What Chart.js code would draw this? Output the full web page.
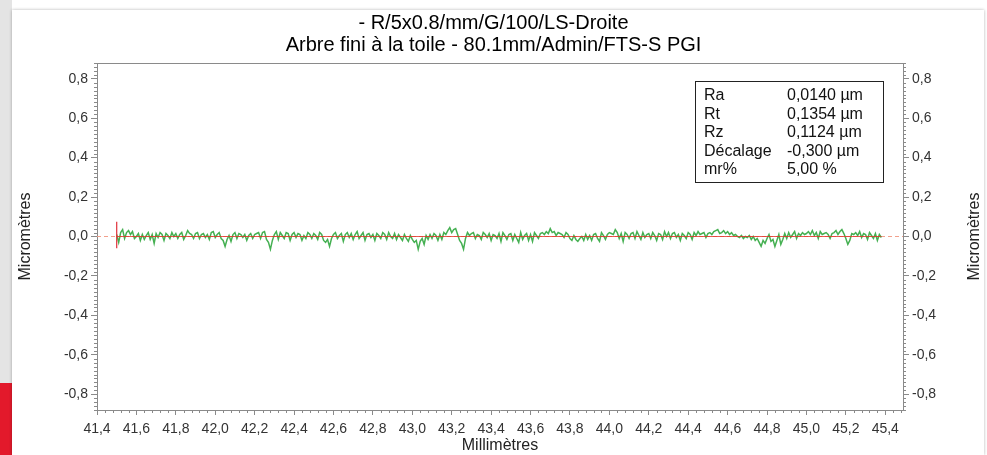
<!DOCTYPE html>
<html><head><meta charset="utf-8">
<script src="https://cdn.jsdelivr.net/npm/chart.js@4.4.0/dist/chart.umd.min.js"></script>
<style>
html,body{margin:0;padding:0;width:987px;height:455px;overflow:hidden;background:#fff;}
#strip{position:absolute;left:0;top:0;width:12px;height:383px;background:#e4e4e4;}
#red{position:absolute;left:0;top:383px;width:13px;height:72px;background:#e3192b;}
#panel{position:absolute;left:12px;top:10px;width:972px;height:445px;background:#fff;box-shadow:0 0 3px rgba(0,0,0,0.3);}
#wrap{position:absolute;left:0;top:0;width:987px;height:455px;}
</style></head><body>
<div id="strip"></div><div id="red"></div><div id="panel"></div>
<div id="wrap"><canvas id="c"></canvas></div>
<script>
const titleLines = ['- R/5x0.8/mm/G/100/LS-Droite', 'Arbre fini à la toile - 80.1mm/Admin/FTS-S PGI'];
const xAxisTitle = 'Millimètres';
const yAxisTitle = 'Micromètres';
const xTicks = [41.4,41.6,41.8,42.0,42.2,42.4,42.6,42.8,43.0,43.2,43.4,43.6,43.8,44.0,44.2,44.4,44.6,44.8,45.0,45.2,45.4];
const xTickLabels = ['41,4','41,6','41,8','42,0','42,2','42,4','42,6','42,8','43,0','43,2','43,4','43,6','43,8','44,0','44,2','44,4','44,6','44,8','45,0','45,2','45,4'];
const yTicks = [-0.8,-0.6,-0.4,-0.2,0,0.2,0.4,0.6,0.8];
const yTickLabels = ['-0,8','-0,6','-0,4','-0,2','0,0','0,2','0,4','0,6','0,8'];
const xMin = 41.4, xMax = 45.49, yMin = -0.88, yMax = 0.88;

// profile sampled every 0.01 mm starting at 41.50 mm (µm)
const xStart = 41.50, xStep = 0.01;
const profile = [
 0.01,-0.03,0.02,0.035,-0.01,0.02,0.03,0.01,0.025,-0.01,
 0.00,0.015,-0.02,0.01,-0.015,0.005,0.02,-0.015,0.01,-0.035,
 0.015,-0.005,0.02,0.01,-0.02,0.015,0.005,-0.01,0.02,0.00,
 0.015,-0.01,0.01,0.02,-0.015,0.005,0.03,0.015,0.01,-0.01,
 0.015,0.02,-0.01,0.01,0.015,-0.005,0.01,-0.015,0.02,0.025,
 -0.005,0.01,0.02,-0.01,-0.02,-0.05,-0.015,0.005,-0.025,0.01,
 0.02,-0.01,0.015,0.01,-0.005,0.01,-0.02,0.005,0.015,-0.01,
 0.01,0.015,0.02,-0.01,0.02,0.025,-0.015,-0.03,-0.065,-0.02,
 0.01,0.025,-0.015,0.02,0.005,-0.01,0.02,0.015,-0.02,0.01,
 0.02,-0.005,0.015,0.01,-0.02,0.005,-0.01,0.02,0.01,-0.01,
 0.015,0.005,-0.015,0.02,0.01,-0.02,-0.03,-0.015,-0.05,-0.01,
 0.01,0.02,-0.01,0.005,0.015,-0.025,0.01,0.02,-0.005,0.015,
 -0.015,0.01,0.025,-0.01,0.005,0.02,-0.02,0.01,0.015,-0.005,
 0.01,-0.02,0.015,0.005,-0.01,0.02,0.01,-0.015,0.02,0.00,
 -0.01,0.015,-0.015,0.01,-0.005,-0.02,0.01,-0.01,-0.025,0.005,
 -0.015,-0.03,-0.02,-0.065,-0.025,-0.01,-0.04,0.005,-0.015,0.01,
 -0.01,0.015,0.005,-0.02,0.01,-0.015,0.02,0.01,0.03,0.045,
 0.02,0.035,0.04,0.01,-0.02,-0.035,-0.065,-0.01,0.02,0.005,
 0.015,0.02,-0.01,0.01,0.005,-0.015,0.02,0.01,-0.005,0.015,
 -0.02,0.01,0.005,-0.01,0.015,-0.025,0.02,0.005,-0.015,0.01,
 0.015,-0.02,0.01,-0.01,-0.03,0.02,-0.015,0.005,0.015,-0.02,
 0.01,-0.025,0.02,0.005,-0.01,0.015,0.02,0.01,0.025,0.015,
 0.04,0.02,0.025,0.005,0.02,0.015,0.01,-0.005,0.02,0.01,
 -0.01,-0.02,0.005,-0.015,-0.025,-0.01,0.00,-0.02,0.01,-0.015,
 0.005,-0.02,0.01,0.015,-0.01,-0.025,0.02,0.005,-0.015,0.01,
 0.02,0.015,0.01,0.035,0.02,-0.01,0.015,-0.025,0.02,0.01,
 -0.01,0.015,0.02,-0.01,0.025,0.005,-0.015,0.02,-0.005,0.01,
 0.015,-0.01,0.02,0.005,-0.02,0.015,0.01,-0.015,0.025,0.00,
 0.02,-0.01,0.015,0.02,-0.005,0.01,-0.02,0.015,0.005,-0.01,
 0.02,0.01,-0.015,0.02,0.005,0.025,0.01,0.015,0.02,-0.005,
 0.015,0.02,0.01,0.025,0.03,0.035,0.015,0.02,0.03,0.015,
 0.025,0.01,0.02,0.005,0.01,0.00,-0.005,0.005,-0.01,0.00,
 -0.005,0.005,-0.015,0.00,-0.02,-0.01,-0.03,-0.05,-0.02,-0.035,
 -0.01,0.01,-0.025,-0.015,-0.05,-0.02,0.01,-0.04,-0.015,0.015,
 -0.01,0.02,-0.005,0.01,0.025,-0.01,0.015,0.005,0.02,0.01,
 0.015,0.025,0.01,0.03,0.005,0.02,-0.01,0.025,0.01,0.015,
 0.02,0.01,-0.01,0.015,0.02,0.03,0.01,0.025,0.035,0.015,
 -0.01,-0.04,-0.02,0.015,0.01,0.02,0.005,0.025,-0.005,0.015,
 0.01,-0.015,0.02,0.005,-0.01,0.015,-0.02,0.01,-0.005
];
const meanLineX = [41.50, 45.38];
const refLineX = [41.4, 45.49];
const startMarkX = 41.50;
const startMarkY = [0.075, -0.06];

const statNames = ['Ra','Rt','Rz','Décalage','mr%'];
const statValues = ['0,0140 µm','0,1354 µm','0,1124 µm','-0,300 µm','5,00 %'];

const FONT = "'Liberation Sans', Arial, sans-serif";
const axisColor = '#8a8a8a';
const labelColor = '#333';

const profilePts = profile.map((v, i) => ({ x: +(xStart + i * xStep).toFixed(2), y: v }));

const extras = {
  id: 'extras',
  afterDraw(chart) {
    const ctx = chart.ctx, a = chart.chartArea;
    const sx = chart.scales.x, sy = chart.scales.y;
    ctx.save();
    ctx.strokeStyle = axisColor; ctx.lineWidth = 1;
    ctx.beginPath();
    for (let k = 0; ; k++) {
      const v = xMin + k * 0.04;
      if (v > xMax + 1e-9) break;
      if (k % 5 === 0) continue;
      const px = Math.round(sx.getPixelForValue(v)) + 0.5;
      ctx.moveTo(px, a.bottom); ctx.lineTo(px, a.bottom + 3);
    }
    for (let k = -44; k <= 44; k++) {
      if (k % 10 === 0) continue;
      const py = Math.round(sy.getPixelForValue(k * 0.02)) + 0.5;
      ctx.moveTo(a.left - 3, py); ctx.lineTo(a.left, py);
      ctx.moveTo(a.right, py); ctx.lineTo(a.right + 3, py);
    }
    ctx.moveTo(a.left, Math.round(a.top) + 0.5); ctx.lineTo(a.right, Math.round(a.top) + 0.5);
    ctx.stroke();

    // right axis title (reads bottom to top)
    ctx.fillStyle = '#222';
    ctx.font = '16px ' + FONT;
    ctx.textAlign = 'center'; ctx.textBaseline = 'middle';
    ctx.save();
    ctx.translate(975, (a.top + a.bottom) / 2);
    ctx.rotate(-Math.PI / 2);
    ctx.fillText(yAxisTitle, 0, 0);
    ctx.restore();

    // stats box
    const bx = a.right - 208, by = a.top + 18, bw = 188, bh = 101;
    ctx.fillStyle = '#fff';
    ctx.fillRect(bx, by, bw, bh);
    ctx.strokeStyle = '#222';
    ctx.strokeRect(Math.round(bx) + 0.5, Math.round(by) + 0.5, bw, bh);
    ctx.fillStyle = '#111';
    ctx.font = '16px ' + FONT;
    ctx.textAlign = 'left';
    statNames.forEach((n, i) => {
      const ty = by + 15 + i * 18.5;
      ctx.fillText(n, bx + 9, ty);
      ctx.fillText(statValues[i], bx + 92, ty);
    });
    ctx.restore();
  }
};

const yScaleBase = (pos, w) => ({
  type: 'linear', position: pos, min: yMin, max: yMax,
  afterBuildTicks: s => { s.ticks = yTicks.map(v => ({ value: v })); },
  afterFit: s => { s.width = w; },
  grid: { drawOnChartArea: false, tickLength: 6, color: axisColor },
  border: { color: axisColor },
  ticks: {
    padding: 3, color: labelColor, font: { family: FONT, size: 14 },
    callback: (v) => { const i = yTicks.findIndex(t => Math.abs(t - v) < 1e-9); return i >= 0 ? yTickLabels[i] : ''; }
  }
});

const yLeft = yScaleBase('left', 97);
yLeft.title = { display: true, text: yAxisTitle, color: '#222', font: { family: FONT, size: 16 }, padding: { top: 16, bottom: 0 } };
const yRight = yScaleBase('right', 84);

new Chart(document.getElementById('c'), {
  type: 'line',
  data: {
    datasets: [
      { data: meanLineX.map(x => ({ x, y: 0 })), borderColor: 'rgba(225,50,40,0.8)', borderWidth: 1, pointRadius: 0 },
      { data: startMarkY.map(y => ({ x: startMarkX, y })), borderColor: '#e0303a', borderWidth: 1.2, pointRadius: 0 },
      { data: profilePts, borderColor: '#45b052', borderWidth: 1.5, pointRadius: 0, tension: 0 },
      { data: refLineX.map(x => ({ x, y: 0 })), borderColor: '#f2a08c', borderWidth: 1, borderDash: [4, 3], pointRadius: 0 }
    ]
  },
  options: {
    responsive: true, maintainAspectRatio: false, animation: false,
    layout: { padding: 0 },
    plugins: {
      legend: { display: false }, tooltip: { enabled: false },
      title: { display: true, text: titleLines, color: '#000', font: { family: FONT, size: 20, weight: 'normal', lineHeight: 1.1 }, padding: { top: 12, bottom: 7 } }
    },
    scales: {
      x: {
        type: 'linear', position: 'bottom', min: xMin, max: xMax,
        afterBuildTicks: s => { s.ticks = xTicks.map(v => ({ value: v })); },
        afterFit: s => { s.height = 45; },
        grid: { drawOnChartArea: false, tickLength: 5, color: axisColor },
        border: { color: axisColor },
        ticks: {
          padding: 6, color: labelColor, font: { family: FONT, size: 14 }, maxRotation: 0, autoSkip: false,
          callback: (v) => { const i = xTicks.findIndex(t => Math.abs(t - v) < 1e-9); return i >= 0 ? xTickLabels[i] : ''; }
        },
        title: { display: true, text: xAxisTitle, color: '#222', font: { family: FONT, size: 16 }, padding: { top: 0, bottom: 0 } }
      },
      y: yLeft,
      y2: yRight
    }
  },
  plugins: [extras]
});
</script>
</body></html>
